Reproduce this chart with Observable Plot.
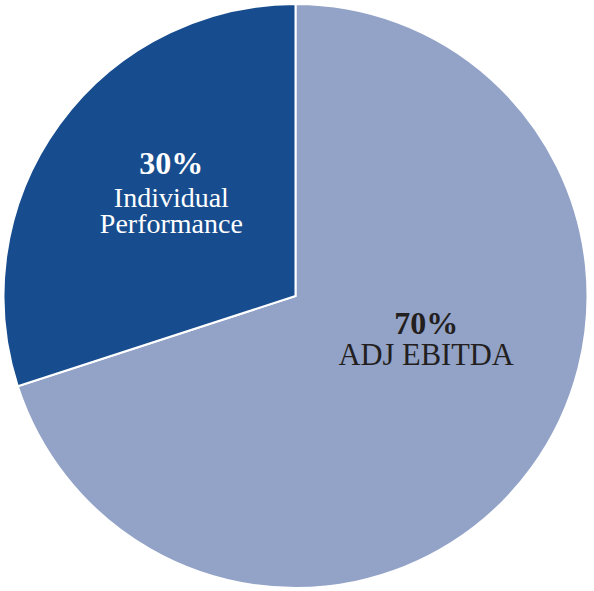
<!DOCTYPE html>
<html>
<head>
<meta charset="utf-8">
<script src="https://cdn.jsdelivr.net/npm/d3@7"></script>
<script src="https://cdn.jsdelivr.net/npm/@observablehq/plot@0.6"></script>
<style>
  html, body { margin: 0; padding: 0; background: #ffffff; }
  #chart svg { display: block; }
</style>
</head>
<body>
<div id="chart"></div>
<script>
// ---- data ----
const categories = ["ADJ EBITDA", "Individual Performance"];
const values = [70, 30];
const nameLines = ["ADJ EBITDA", "Individual\nPerformance"];

// ---- style ----
const sliceColors = ["#93a3c7", "#174d8e"];
const textColors = ["#231f20", "#ffffff"];
const nameSizes = [30.5, 28];
const labelRadius = 0.55;
const labelDx = [0, 5.5];
const pctDy = [-56.5, -28.5];
const nameDy = [-25.5, 31];

const arcs = d3.pie().sort(null).value(d => d.value)(
  categories.map((c, i) => ({category: c, value: values[i], name: nameLines[i], i}))
);
const total = d3.sum(values);
const slices = arcs.map(a => {
  const mid = (a.startAngle + a.endAngle) / 2;
  return {
    ...a.data,
    startAngle: a.startAngle,
    endAngle: a.endAngle,
    lx: Math.sin(mid) * labelRadius,
    ly: -Math.cos(mid) * labelRadius,
    pct: Math.round(a.data.value / total * 100) + "%"
  };
});

// pie slices drawn through Plot's x/y scales
function pieMark(index, scales) {
  const cx = scales.x(0), cy = scales.y(0);
  const r = Math.min(scales.x(1) - scales.x(0), scales.y(1) - scales.y(0));
  const arc = d3.arc().innerRadius(0).outerRadius(r);
  const g = d3.create("svg:g").attr("transform", `translate(${cx},${cy})`);
  g.selectAll("path")
    .data(slices)
    .join("path")
    .attr("d", d => arc(d))
    .attr("fill", d => sliceColors[d.i])
    .attr("stroke", "#ffffff")
    .attr("stroke-width", 2)
    .attr("stroke-linejoin", "miter");
  return g.node();
}

const labelMarks = slices.flatMap(s => [
  Plot.text([s], {
    x: "lx", y: "ly", text: "pct",
    dx: labelDx[s.i], dy: pctDy[s.i],
    lineAnchor: "bottom",
    fontSize: 32, fontWeight: "bold",
    fontFamily: "'Liberation Serif', 'DejaVu Serif', serif",
    fill: textColors[s.i]
  }),
  Plot.text([s], {
    x: "lx", y: "ly", text: "name",
    dx: labelDx[s.i], dy: nameDy[s.i],
    lineAnchor: "bottom", lineHeight: 0.95,
    fontSize: nameSizes[s.i],
    fontFamily: "'Liberation Serif', 'DejaVu Serif', serif",
    fill: textColors[s.i]
  })
]);

const chart = Plot.plot({
  width: 594,
  height: 591,
  margin: 0,
  style: {background: "#ffffff"},
  x: {domain: [-1, 1], range: [3, 588], axis: null},
  y: {domain: [-1, 1], range: [4, 588], axis: null},
  marks: [pieMark, ...labelMarks]
});
document.getElementById("chart").appendChild(chart);
</script>
</body>
</html>
